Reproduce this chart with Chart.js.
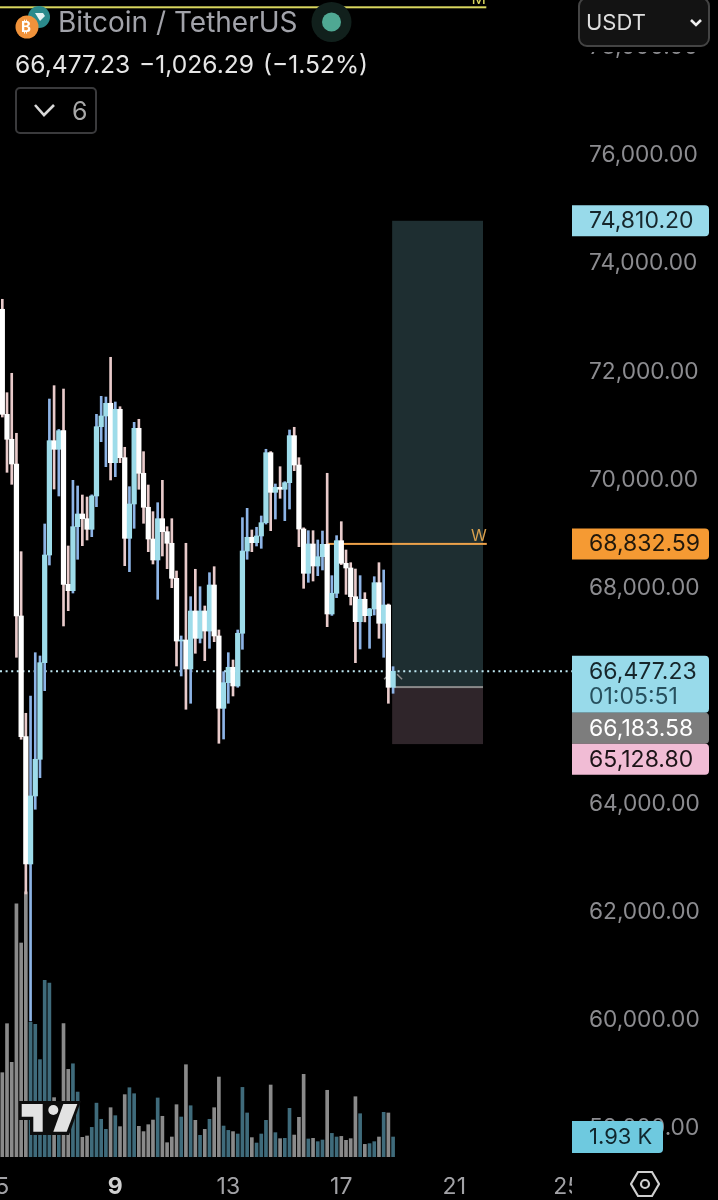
<!DOCTYPE html>
<html>
<head>
<meta charset="utf-8">
<title>Bitcoin / TetherUS</title>
<script src="https://cdn.jsdelivr.net/npm/chart.js@4/dist/chart.umd.min.js"></script>
<style>
html, body { margin: 0; padding: 0; background: #000; }
body { position: relative; width: 718px; height: 1200px; overflow: hidden; font-family: Inter, "Noto Sans", sans-serif; }
#myChart { position: absolute; left: 0; top: 0; }
.abs { position: absolute; white-space: nowrap; }
#title { left: 58px; top: 6px; font-size: 28px; line-height: 32px; color: #a2a3aa; }
#quote { left: 15px; top: 49px; font-size: 24.6px; line-height: 30px; color: #e6e6e6; word-spacing: 2px; }
#collapse { left: 15px; top: 87px; width: 78px; height: 43px; border: 2px solid #3a3a3c; border-radius: 5px; }
#collapseNum { left: 72px; top: 95px; font-size: 25px; line-height: 32px; color: #a8a8a8; }
#fade { left: 573px; top: 0; width: 145px; height: 52px; background: #000; }
#unit { left: 578px; top: -3px; width: 128px; height: 46px; background: #131313; border: 2px solid #444; border-radius: 9px; }
#unitText { left: 586px; top: 7px; font-size: 22px; line-height: 30px; color: #dedede; }
</style>
</head>
<body>
<canvas id="myChart" width="718" height="1200"></canvas>

<div class="abs" id="fade"></div>
<svg class="abs" style="left:0;top:0" width="718" height="1200">
  <circle cx="39" cy="17" r="11" fill="#2b8a8c"/>
  <path d="M35 13 L43 13 L45 16 L40 21 Z" fill="#e6f2f2"/>
  <circle cx="27" cy="27" r="11.5" fill="#f0923a"/>
  <circle cx="331.5" cy="22" r="20" fill="#11201c"/>
  <circle cx="331.5" cy="22" r="9.5" fill="#4fa893"/>
  <path d="M35 105 L44 115 L54 105" fill="none" stroke="#d8d8d8" stroke-width="2.6"/>
</svg>
<div class="abs" style="left:21px;top:18px;font-size:15px;line-height:18px;font-weight:700;color:#fff">₿</div>
<div class="abs" id="title">Bitcoin / TetherUS</div>
<div class="abs" id="quote">66,477.23 −1,026.29 (−1.52%)</div>
<div class="abs" id="collapse"></div>
<div class="abs" id="collapseNum">6</div>
<div class="abs" id="unit"></div>
<div class="abs" id="unitText">USDT</div>
<svg class="abs" style="left:685px;top:14px" width="22" height="18">
  <path d="M6 6 L11 11 L16 6" fill="none" stroke="#eee" stroke-width="2.6"/>
</svg>
<svg class="abs" style="left:630px;top:1169px" width="30" height="30">
  <path d="M8 3 L22 3 L29 15 L22 27 L8 27 L1 15 Z" fill="none" stroke="#cfcfcf" stroke-width="2.2"/>
  <circle cx="15" cy="15" r="4" fill="none" stroke="#cfcfcf" stroke-width="2.2"/>
</svg>

<script>
// 4h candles
var opens = [73173,71230,70768,70311,67499,65266,62911,64169,64848,66635,68627,70742,70583,70927,68085,67967,69151,69386,69299,69103,69719,71001,71199,71434,70335,71323,70428,68936,69571,70971,70139,69510,68923,68535,69299,69059,68844,68196,67036,67055,66518,67591,67086,67591,67221,68072,67129,65791,66265,66550,66204,67179,68701,68955,68855,68979,69225,70520,69787,69880,69843,69965,70835,70292,69108,68289,68831,68424,68596,68825,67536,67919,68892,68474,68387,67856,67394,67808,67505,67628,68115,67364,67702,66180];
var highs = [73358,71630,71989,70879,68689,65699,66019,66820,66759,69201,71513,71760,70950,71698,68794,70009,69904,69737,69700,69740,71230,71563,71550,72285,71458,71371,70620,69891,71082,71138,70539,69922,69429,69595,70009,69151,69299,68331,67129,68844,67856,68363,68041,67684,68300,68411,67240,66469,66820,66685,67240,69318,69491,69090,69140,69349,70583,70540,69941,70261,69984,70940,70990,70428,69130,69077,69077,68905,69071,70139,68245,68985,69244,68720,68485,68368,68245,67930,67640,68226,68485,68350,67720,66561];
var lows = [71180,70157,69935,66735,65218,62356,60006,63923,64508,66117,68442,69848,69719,67314,67597,67924,68548,68800,68905,68966,69521,70724,70261,70015,70076,70335,68430,68319,69121,69843,69214,68689,68461,67808,68609,68374,68023,66574,66389,65773,65884,66809,67000,66672,66901,67024,65144,65223,65884,66019,66180,66883,68548,68689,68794,68751,69200,69077,69293,69676,69262,69478,70187,68781,68011,68122,68146,68245,68350,67301,67510,67838,68450,67900,67702,66635,66888,67390,66901,67517,67086,66735,65884,66069];
var closes = [71230,70768,70311,67499,65266,62911,64169,64848,66635,68627,70742,70583,70927,68085,67967,69151,69386,69299,69103,69719,71001,71199,71434,70335,71323,70428,68936,69571,70971,70139,69510,68923,68535,69299,69059,68844,68196,67036,67055,66518,67591,67086,67591,67221,68072,67129,65791,66265,66550,66204,67179,68701,68955,68855,68979,69225,70520,69787,69880,69843,69965,70835,70292,69108,68289,68831,68424,68596,68825,67536,67919,68892,68474,68387,67856,67394,67808,67505,67628,68115,67364,67702,66180,66477.23];
// volume in thousands
var volumes = [8.14,12.87,9.14,24.45,20.66,25.6,13.0,12.8,9.4,17.05,16.8,5.73,4.8,12.87,8.46,9.0,6.27,1.9,2.03,2.86,5.2,3.64,2.67,4.76,3.99,2.93,6.02,6.69,6.11,2.96,2.45,3.12,3.57,5.7,3.93,1.38,1.93,5.05,3.86,8.91,4.95,3.54,2.09,2.67,3.64,4.76,7.72,2.99,2.57,2.45,2.22,6.72,4.25,1.87,1.35,2.22,3.54,6.95,2.35,1.77,1.8,4.7,2.12,3.83,7.98,1.74,1.8,1.48,1.64,6.44,2.28,1.93,1.99,1.61,1.77,5.82,4.18,1.22,1.29,1.48,1.93,4.31,4.25,1.93];
var dayTicks = [0, 24, 48, 72, 96, 120];
var dayLabels = ['5', '9', '13', '17', '21', '25'];
var priceTicks = [78000, 76000, 74000, 72000, 70000, 68000, 64000, 62000, 60000, 58000];

var targetPrice = 74810.20;
var entryPrice = 66183.58;
var stopPrice = 65128.80;
var lastPrice = 66477.23;
var weeklyPrice = 68832.59;
var monthlyPrice = 78760;
var lastVolume = 1.93;

var tagBlue = '#98daea';
var fontName = 'Inter, "Noto Sans", sans-serif';

function money(v) {
    return v.toLocaleString('en-US', {minimumFractionDigits: 2, maximumFractionDigits: 2});
}

var index = opens.map(function (o, i) { return i; });
var isUp = index.map(function (i) { return closes[i] >= opens[i]; });

var overlays = {
    id: 'overlays',
    beforeDatasetsDraw: function (chart) {
        var c = chart.ctx, x = chart.scales.x, y = chart.scales.y;
        var boxLeft = x.getPixelForValue(82.8), boxRight = x.getPixelForValue(102.1);
        c.save();
        c.fillStyle = '#1e2e31';
        c.fillRect(boxLeft, y.getPixelForValue(targetPrice), boxRight - boxLeft, y.getPixelForValue(entryPrice) - y.getPixelForValue(targetPrice));
        c.fillStyle = '#2f252a';
        c.fillRect(boxLeft, y.getPixelForValue(entryPrice), boxRight - boxLeft, y.getPixelForValue(stopPrice) - y.getPixelForValue(entryPrice));
        c.fillStyle = '#8a8a8a';
        c.fillRect(boxLeft, y.getPixelForValue(entryPrice) - 1, boxRight - boxLeft, 2);
        // monthly and weekly levels
        c.fillStyle = '#d9d65f';
        c.fillRect(0, y.getPixelForValue(monthlyPrice) - 1, x.getPixelForValue(102.8), 2);
        c.fillStyle = '#eda24a';
        var wl = x.getPixelForValue(68.8);
        c.fillRect(wl, y.getPixelForValue(weeklyPrice) - 1, x.getPixelForValue(102.9) - wl, 2);
        c.font = '16px ' + fontName;
        c.textAlign = 'center';
        c.textBaseline = 'bottom';
        c.fillStyle = '#d9a04e';
        c.fillText('W', x.getPixelForValue(101.2), y.getPixelForValue(weeklyPrice));
        c.fillStyle = '#d9d65f';
        c.fillText('M', x.getPixelForValue(101.2), y.getPixelForValue(monthlyPrice));
        // last price dotted line
        c.strokeStyle = '#bfe8f2';
        c.lineWidth = 2;
        c.setLineDash([2, 3.6]);
        c.beginPath();
        c.moveTo(0, y.getPixelForValue(lastPrice));
        c.lineTo(chart.chartArea.right, y.getPixelForValue(lastPrice));
        c.stroke();
        c.setLineDash([]);
        // arrow marks by the last bar
        var lx = x.getPixelForValue(opens.length - 1), ly = y.getPixelForValue(lastPrice);
        c.strokeStyle = '#8d8d8d';
        c.lineWidth = 1.5;
        c.beginPath();
        c.moveTo(lx - 9, ly + 8);
        c.lineTo(lx - 4, ly + 3);
        c.moveTo(lx + 4, ly + 3);
        c.lineTo(lx + 9, ly + 8);
        c.stroke();
        c.restore();
    },
    afterDraw: function (chart) {
        var c = chart.ctx, y = chart.scales.y, v = chart.scales.yVol;
        var left = chart.chartArea.right, bottom = chart.chartArea.bottom;
        c.save();
        // the date axis stops at the price pane
        c.fillStyle = '#000';
        c.fillRect(left, bottom + 2, 718 - left, 1200 - bottom);

        c.font = '23px ' + fontName;
        c.textAlign = 'left';
        c.textBaseline = 'middle';
        function tag(top, h, right, color, text, textColor, tx) {
            c.fillStyle = color;
            c.beginPath();
            c.roundRect(left, top, right - left, h, [0, 4, 4, 0]);
            c.fill();
            c.fillStyle = textColor;
            c.fillText(text, tx || left + 17, top + 16);
        }
        tag(y.getPixelForValue(targetPrice) - 15.5, 31, 709, tagBlue, money(targetPrice), '#16262b');
        tag(y.getPixelForValue(weeklyPrice) - 15.5, 31, 709, '#f59a33', money(weeklyPrice), '#21180c');
        var top = y.getPixelForValue(lastPrice) - 15.5;
        tag(top, 57, 709, tagBlue, money(lastPrice), '#16262b');
        c.fillStyle = '#27505e';
        c.fillText('01:05:51', left + 17, top + 41);
        top = Math.max(y.getPixelForValue(entryPrice) - 15.5, top + 57);
        tag(top, 31, 709, '#7d7d7d', money(entryPrice), '#fff');
        top = Math.max(y.getPixelForValue(stopPrice) - 15.5, top + 31);
        tag(top, 31, 709, '#f1bcd5', money(stopPrice), '#1d1418');
        c.font = '22px ' + fontName;
        tag(v.getPixelForValue(lastVolume) - 16, 32, 663, '#6ec9df', lastVolume + ' K', '#10262d', left + 17);

        // TradingView mark
        c.fillStyle = '#0d0d0d';
        c.beginPath();
        c.moveTo(19, 1101); c.lineTo(81, 1101); c.lineTo(69, 1135); c.lineTo(30, 1135); c.lineTo(30, 1120); c.lineTo(19, 1120);
        c.closePath();
        c.fill();
        c.fillStyle = '#e2e2e2';
        c.beginPath();
        c.moveTo(21.7, 1104); c.lineTo(42.7, 1104); c.lineTo(42.7, 1131.7); c.lineTo(33.3, 1131.7); c.lineTo(33.3, 1116.7); c.lineTo(21.7, 1116.7);
        c.closePath();
        c.fill();
        c.beginPath();
        c.arc(53.3, 1110, 5, 0, Math.PI * 2);
        c.fill();
        c.beginPath();
        c.moveTo(63.3, 1104); c.lineTo(77.3, 1104); c.lineTo(66.7, 1131.7); c.lineTo(53.3, 1131.7);
        c.closePath();
        c.fill();
        c.restore();
    }
};

var ctx = document.getElementById('myChart');
var myChart = new Chart(ctx, {
    type: 'bar',
    data: {
        datasets: [
            {
                // bodies
                data: index.map(function (i) { return {x: i, y: [opens[i], closes[i]]}; }),
                backgroundColor: isUp.map(function (u) { return u ? '#9edcea' : '#ffffff'; }),
                barThickness: 4.6,
                grouped: false,
                order: 1,
                yAxisID: 'y'
            },
            {
                // wicks
                data: index.map(function (i) { return {x: i, y: [lows[i], highs[i]]}; }),
                backgroundColor: isUp.map(function (u) { return u ? '#8db4e6' : '#e9cbcb'; }),
                barThickness: 2,
                grouped: false,
                order: 2,
                yAxisID: 'y'
            },
            {
                data: index.map(function (i) { return {x: i, y: volumes[i]}; }),
                backgroundColor: isUp.map(function (u) { return u ? '#3f6b7b' : '#8a8a8a'; }),
                barThickness: 3,
                grouped: false,
                order: 3,
                yAxisID: 'yVol'
            }
        ]
    },
    options: {
        responsive: false,
        animation: false,
        layout: {padding: 0},
        plugins: {legend: {display: false}, tooltip: {enabled: false}},
        scales: {
            x: {
                type: 'linear',
                offset: false,
                min: -0.49,
                max: 121,
                grid: {display: false, drawTicks: false},
                border: {display: false},
                afterBuildTicks: function (s) { s.ticks = dayTicks.map(function (v) { return {value: v}; }); },
                afterFit: function (s) { s.height = 43; s.paddingLeft = 0; s.paddingRight = 0; },
                ticks: {
                    autoSkip: false,
                    maxRotation: 0,
                    padding: 16,
                    color: function (ctx) { return ctx.tick.value === dayTicks[1] ? '#d0d0d0' : '#a2a2a6'; },
                    font: function (ctx) {
                        return {family: fontName, size: 23, weight: ctx.tick && ctx.tick.value === dayTicks[1] ? '700' : '400'};
                    },
                    callback: function (v) { return dayLabels[dayTicks.indexOf(v)]; }
                }
            },
            y: {
                position: 'right',
                min: 57490,
                max: 78895,
                grid: {display: false, drawTicks: false},
                border: {display: false},
                afterBuildTicks: function (s) { s.ticks = priceTicks.map(function (v) { return {value: v}; }); },
                afterFit: function (s) { s.width = 146; s.paddingTop = 0; s.paddingBottom = 0; },
                ticks: {
                    autoSkip: false,
                    padding: 17,
                    labelOffset: -1,
                    color: '#8c8c90',
                    font: {family: fontName, size: 22.7},
                    callback: function (v) { return money(v); }
                }
            },
            yVol: {
                display: false,
                min: 0,
                max: 111.7
            }
        }
    },
    plugins: [overlays]
});
</script>
</body>
</html>
